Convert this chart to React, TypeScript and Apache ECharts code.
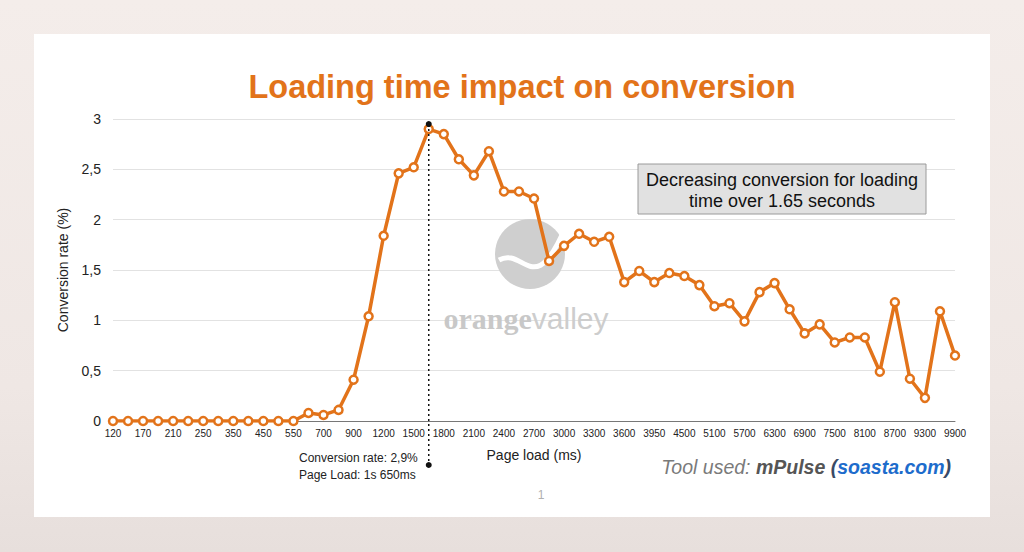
import React, { useEffect, useRef } from "react";
import * as echarts from "echarts";

const categories = [
  "120", "150", "170", "190", "210", "230", "250", "300", "350", "400", "450", "500", "550", "600",
  "700", "800", "900", "1050", "1200", "1350", "1500", "1650", "1800", "1950", "2100", "2250", "2400",
  "2550", "2700", "2850", "3000", "3150", "3300", "3450", "3600", "3750", "3950", "4200", "4500", "4800",
  "5100", "5400", "5700", "6000", "6300", "6600", "6900", "7200", "7500", "7800", "8100", "8400", "8700",
  "9000", "9300", "9600", "9900",
];

const conversion = [
  0, 0, 0, 0, 0, 0, 0, 0, 0, 0, 0, 0, 0, 0.08, 0.06, 0.11, 0.41, 1.04, 1.84, 2.46, 2.52, 2.9, 2.85,
  2.6, 2.44, 2.68, 2.28, 2.28, 2.21, 1.59, 1.74, 1.86, 1.78, 1.83, 1.38, 1.49, 1.38, 1.47, 1.44, 1.35,
  1.14, 1.17, 0.99, 1.28, 1.37, 1.11, 0.87, 0.96, 0.78, 0.83, 0.83, 0.49, 1.18, 0.42, 0.23, 1.09, 0.65,
];

const peakIndex = 21;
const peakLabelLines = ["Conversion rate: 2,9%", "Page Load: 1s 650ms"];
const titleText = "Loading time impact on conversion";
const noteLines = ["Decreasing conversion for loading", "time over 1.65 seconds"];

const ORANGE = "#e2731a";
const FONT = "'Liberation Sans', Arial, Helvetica, sans-serif";

export default function App() {
  const ref = useRef<HTMLDivElement>(null);

  useEffect(() => {
    if (!ref.current) return;
    const chart = echarts.init(ref.current, undefined, { renderer: "svg" });
    chart.setOption({
      animation: false,
      backgroundColor: "transparent",
      textStyle: { fontFamily: FONT },
      grid: { left: 113, right: 69, top: 119, bottom: 131 },
      xAxis: {
        type: "category",
        data: categories,
        boundaryGap: false,
        name: "Page load (ms)",
        nameLocation: "middle",
        nameGap: 27,
        nameTextStyle: { fontSize: 14, color: "#222", fontFamily: FONT },
        axisLine: { lineStyle: { color: "#777", width: 1 } },
        axisTick: { show: false },
        axisLabel: { interval: 1, fontSize: 10, color: "#222", margin: 7, fontFamily: FONT },
        splitLine: { show: false },
      },
      yAxis: {
        type: "value",
        min: 0,
        max: 3,
        interval: 0.5,
        name: "Conversion rate (%)",
        nameLocation: "middle",
        nameGap: 43,
        nameRotate: 90,
        nameTextStyle: { fontSize: 14, color: "#222", fontFamily: FONT },
        axisLine: { show: false },
        axisTick: { show: false },
        axisLabel: {
          fontSize: 14,
          color: "#222",
          margin: 12,
          fontFamily: FONT,
          formatter: (v: number) => String(v).replace(".", ","),
        },
        splitLine: { lineStyle: { color: "#e2e2e2", width: 1 } },
      },
      series: [
        {
          type: "line",
          data: conversion,
          z: 5,
          symbol: "circle",
          symbolSize: 8,
          lineStyle: { color: ORANGE, width: 3.5 },
          itemStyle: { color: "#fff", borderColor: ORANGE, borderWidth: 2.5 },
        },
      ],
    });

    const [px, py] = chart.convertToPixel({ xAxisIndex: 0, yAxisIndex: 0 }, [peakIndex, conversion[peakIndex]]) as number[];
    const [, y0] = chart.convertToPixel({ xAxisIndex: 0, yAxisIndex: 0 }, [0, 0]) as number[];
    const topY = py - 5;
    const botY = y0 + 44;

    chart.setOption({
      graphic: [
        { type: "rect", z: -10, shape: { x: 34, y: 34, width: 956, height: 483 }, style: { fill: "#ffffff" }, silent: true },
        {
          type: "text",
          z: 1,
          x: 522,
          y: 87,
          style: {
            text: titleText,
            fill: ORANGE,
            font: `bold 32.5px ${FONT}`,
            textAlign: "center",
            textVerticalAlign: "middle",
          },
        },
        // watermark
        { type: "circle", z: 0, shape: { cx: 530, cy: 254, r: 35 }, style: { fill: "#cfcfcf" } },
        {
          type: "bezierCurve",
          z: 0,
          shape: { x1: 499, y1: 260, x2: 566, y2: 226, cpx1: 524, cpy1: 246, cpx2: 534, cpy2: 302 },
          style: { stroke: "#ffffff", lineWidth: 5, fill: null },
        },
        {
          type: "text",
          z: 0,
          x: 526,
          y: 318,
          style: {
            text: "{a|orange}{b|valley}",
            textAlign: "center",
            textVerticalAlign: "middle",
            rich: {
              a: { fontSize: 30, fontWeight: "bold", fill: "#c8c8c8", fontFamily: "'Liberation Serif', serif" },
              b: { fontSize: 30, fill: "#cdcdcd", fontFamily: FONT },
            },
          },
        },
        // note box
        {
          type: "rect",
          z: 1,
          shape: { x: 638, y: 164, width: 288, height: 50 },
          style: { fill: "#e1e1e1", stroke: "#9a9a9a", lineWidth: 1 },
        },
        {
          type: "text",
          z: 2,
          x: 782,
          y: 190,
          style: {
            text: noteLines.join("\n"),
            fill: "#111",
            font: `18px ${FONT}`,
            lineHeight: 21,
            textAlign: "center",
            textVerticalAlign: "middle",
          },
        },
        // peak marker
        {
          type: "line",
          z: 6,
          shape: { x1: px, y1: topY, x2: px, y2: botY },
          style: { stroke: "#111", lineWidth: 1.5, lineDash: [2, 3] },
        },
        { type: "circle", z: 7, shape: { cx: px, cy: topY, r: 3 }, style: { fill: "#111" } },
        { type: "circle", z: 7, shape: { cx: px, cy: botY, r: 3 }, style: { fill: "#111" } },
        {
          type: "text",
          z: 2,
          x: 299,
          y: 466,
          style: {
            text: peakLabelLines.join("\n"),
            fill: "#222",
            font: `12px ${FONT}`,
            lineHeight: 17,
            textAlign: "left",
            textVerticalAlign: "middle",
          },
        },
        // tool used
        {
          type: "text",
          z: 2,
          x: 951,
          y: 467,
          style: {
            text: "{a|Tool used: }{b|mPulse }{c|(}{d|soasta.com}{c|)}",
            textAlign: "right",
            textVerticalAlign: "middle",
            rich: {
              a: { fontSize: 19.5, fontStyle: "italic", fill: "#7a7a7a", fontFamily: FONT },
              b: { fontSize: 19.5, fontStyle: "italic", fontWeight: "bold", fill: "#555", fontFamily: FONT },
              c: { fontSize: 19.5, fontStyle: "italic", fontWeight: "bold", fill: "#3a4a66", fontFamily: FONT },
              d: { fontSize: 19.5, fontStyle: "italic", fontWeight: "bold", fill: "#1d6ccc", fontFamily: FONT },
            },
          },
        },
        {
          type: "text",
          z: 2,
          x: 541,
          y: 495,
          style: { text: "1", fill: "#b0b0b0", font: `12px ${FONT}`, textAlign: "center", textVerticalAlign: "middle" },
        },
      ],
    });

    return () => chart.dispose();
  }, []);

  return (
    <div
      style={{
        position: "fixed",
        left: 0,
        top: 0,
        width: 1024,
        height: 552,
        background: "linear-gradient(180deg, #f4edea 0%, #efe7e4 70%, #e7dfdc 100%)",
      }}
    >
      <div ref={ref} style={{ width: 1024, height: 552 }} />
    </div>
  );
}
